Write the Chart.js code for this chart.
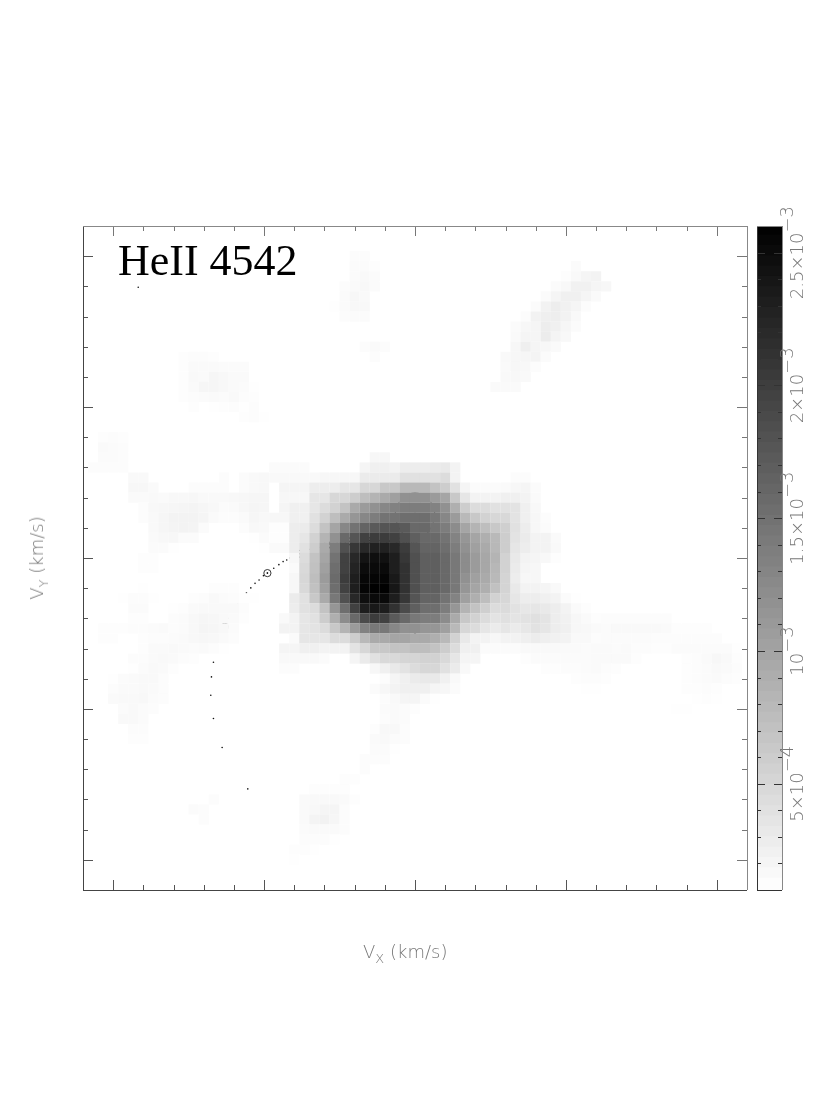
<!DOCTYPE html>
<html lang="en">
<head>
  <meta charset="UTF-8">
  <title>HeII 4542 Doppler map</title>
  <script src="https://cdn.jsdelivr.net/npm/chart.js"></script>
  <style>
    body { margin: 0; background: #fff; }
    #page { position: relative; width: 830px; height: 1117px; overflow: hidden; }
    canvas { position: absolute; left: 0; top: 0; }
    .label { position: absolute; white-space: nowrap; }
    #mapName { left: 118px; top: 236px; font: 44px/50px "Liberation Serif", serif; color: #000; }
    .axisName { font: 200 18px/24px "DejaVu Sans", sans-serif; color: #777; }
    .axisName sub { font-size: 13px; line-height: 0; }
    #xName { left: 363px; top: 940px; }
    #yName { left: 37px; top: 558px; transform: translate(-50%, -50%) rotate(-90deg); }
  </style>
</head>
<body>
<div id="page">
  <canvas id="mapChart" width="830" height="1117"></canvas>
  <canvas id="barChart" width="830" height="1117"></canvas>
  <div class="label" id="mapName">HeII 4542</div>
  <div class="label axisName" id="xName">V<sub>X</sub> (km/s)</div>
  <div class="label axisName" id="yName">V<sub>Y</sub> (km/s)</div>
</div>
<script>
// axis ticks (km/s)
const tickValues = [-1000, -500, 0, 500, 1000];
const tickLabels = ['\u22121000', '\u2212500', '0', '500', '1000'];
const minorValues = [-1000, -900, -800, -700, -600, -400, -300, -200, -100, 100, 200, 300, 400, 600, 700, 800, 900];

// one map cell is this wide in km/s, cell 0 sits on v=0
const cellStep = 33.33;

// flux per cell in units of 1e-5, 0 = background
const coreFirstCol = -14, coreTopRow = 10;
const coreFlux = [
  [0,0,0,0,0,0,0,0,0,0,18,18,0,0,0,0,0,0,0,0,0,0,0,0,0,0,0,0,0,0],
  [14,14,14,14,0,0,0,0,0,20,25,25,22,28,28,28,30,32,22,0,0,0,0,0,0,0,0,0,0,0],
  [16,16,16,16,16,18,18,18,18,30,30,30,30,39,39,39,39,44,22,0,0,0,0,0,13,13,0,0,0,0],
  [0,20,20,20,28,28,28,35,35,49,49,64,64,79,79,79,69,59,39,20,14,14,14,15,18,20,14,0,0,0],
  [0,18,18,18,35,35,49,49,59,74,84,93,103,118,118,118,108,98,64,35,22,22,22,25,25,22,15,0,0,0],
  [0,20,25,25,35,44,54,69,93,108,118,128,133,137,137,137,133,118,88,59,44,44,39,39,37,25,17,0,0,0],
  [18,18,25,25,39,54,74,93,113,128,137,147,147,152,152,152,142,128,108,79,64,54,49,48,37,25,18,13,0,0],
  [12,12,28,30,44,69,98,128,147,162,172,177,177,172,157,157,147,137,123,98,84,74,64,57,39,28,18,14,0,0],
  [12,12,28,35,54,84,118,157,177,196,201,201,196,182,167,157,157,147,132,113,98,88,79,59,37,30,22,22,15,0],
  [15,15,28,39,59,93,137,182,206,221,228,228,221,201,177,162,162,152,137,118,103,93,80,59,35,28,22,22,16,0],
  [0,0,18,44,69,98,147,196,221,240,245,243,231,206,182,167,167,157,142,123,108,96,84,54,32,22,20,17,12,0],
  [0,0,15,47,71,103,152,196,226,248,250,250,231,211,182,167,167,157,142,123,108,96,81,54,30,20,18,0,0,0],
  [0,0,18,49,74,108,155,201,231,253,255,255,235,211,182,167,167,157,142,118,103,93,79,52,28,18,18,0,0,0],
  [0,0,18,47,71,103,152,196,231,255,259,259,237,211,182,167,167,157,142,113,98,88,71,52,32,22,22,20,16,0],
  [0,0,30,39,64,93,142,182,221,245,250,250,231,206,177,162,162,147,132,103,88,74,54,49,35,28,28,25,22,14],
  [0,0,28,39,44,69,113,152,196,231,235,231,211,186,167,152,152,137,113,84,69,57,44,45,38,34,35,32,28,22],
  [0,16,22,35,39,59,88,123,157,186,201,196,172,157,142,137,137,123,93,64,54,44,37,40,36,38,40,36,28,24],
  [0,22,22,35,37,44,64,84,108,133,142,142,128,118,118,113,113,103,79,49,44,35,30,35,30,34,38,35,28,25],
  [0,0,15,35,35,35,44,44,59,79,93,93,98,98,93,93,88,79,54,32,22,22,18,22,23,26,29,26,24,22],
  [0,20,20,25,25,22,22,22,37,49,64,64,69,69,74,74,69,59,44,25,25,14,14,14,14,16,16,16,16,15],
  [0,16,16,16,16,14,0,0,20,30,39,47,47,51,51,54,54,47,35,20,20,0,0,0,0,12,14,14,14,14],
  [0,13,13,0,0,0,0,0,0,0,18,25,32,37,44,49,49,39,30,16,0,0,0,0,0,0,0,12,12,13],
  [0,0,0,0,0,0,0,0,0,0,0,13,20,25,30,32,32,24,16,0,0,0,0,0,0,0,0,0,0,0],
  [0,0,0,0,0,0,0,0,0,0,14,18,22,25,25,25,20,18,14,0,0,0,0,0,0,0,0,0,0,0],
  [0,0,0,0,0,0,0,0,0,0,0,13,16,20,20,14,11,0,0,0,0,0,0,0,0,0,0,0,0,0],
  [0,0,0,0,0,0,0,0,0,0,0,14,15,14,12,0,0,0,0,0,0,0,0,0,0,0,0,0,0,0]
];

const streakFirstCol = 8, streakTopRow = 29;
const streakFlux = [
  [0,0,0,0,0,0,0,0,14,0,0,0],
  [0,0,0,0,0,0,0,12,16,20,22,0],
  [0,0,0,0,0,0,14,17,24,24,20,18],
  [0,0,0,0,0,14,20,25,25,20,15,0],
  [0,0,0,0,14,23,28,24,20,13,0,0],
  [0,0,0,13,23,26,27,23,16,0,0,0],
  [0,0,14,18,20,28,25,19,14,0,0,0],
  [0,0,15,20,20,29,21,17,0,0,0,0],
  [0,0,18,26,20,18,15,0,0,0,0,0],
  [0,16,18,19,21,14,0,0,0,0,0,0],
  [0,15,18,17,13,0,0,0,0,0,0,0],
  [0,16,17,16,0,0,0,0,0,0,0,0],
  [15,15,15,0,0,0,0,0,0,0,0,0]
];

const topFirstCol = -8, topTopRow = 30;
const topFlux = [
  [0,0,13,13,0,0],
  [0,0,14,14,12,0],
  [0,0,14,16,14,0],
  [0,13,15,17,14,0],
  [0,14,18,16,0,0],
  [11,14,17,17,0,0],
  [0,13,14,14,0,0],
  [0,0,0,0,0,0],
  [0,0,0,0,0,0],
  [0,0,0,13,15,13],
  [0,0,0,0,13,0]
];

const blobFirstCol = -23, blobTopRow = 20;
const blobFlux = [
  [12,13,13,12,0,0,0,0,0],
  [12,15,15,15,14,14,14,0,0],
  [12,16,15,19,17,15,15,0,0],
  [12,15,19,19,17,15,14,11,0],
  [12,13,14,15,14,16,13,12,0],
  [0,12,0,11,12,13,11,13,0],
  [0,0,0,0,0,0,12,13,11]
];

const leftFirstCol = -32, leftTopRow = 12;
const leftFlux = [
  [0,12,13,12],
  [0,15,14,13],
  [0,14,14,13],
  [13,13,13,13],
  [0,0,0,0,16,16,0,0,0,0,0,0,0,13,0,14,16,17],
  [0,0,0,0,18,18,15,0,0,0,13,13,13,13,0,14,16,17],
  [0,0,0,0,15,15,16,15,17,17,18,16,16,16,17,18,19,19],
  [0,0,0,0,0,13,17,18,19,20,21,19,17,14,15,18,20,19],
  [0,0,0,0,0,13,16,19,22,22,22,20,15,13,13,15,19,17],
  [0,0,0,0,0,0,16,19,21,22,21,14,0,0,0,13,17,16],
  [0,0,0,0,0,0,15,17,18,14,14,0,0,0,0,0,11,14],
  [0,0,0,0,0,0,14,14,11,0,0,0,0,0,0,0,0,11],
  [0,0,0,0,0,12,12],
  [0,0,0,0,0,12,12],
  [],
  [0,0,0,0,0,11,0,0,0,0,0,0,12,12,12,0,0,0],
  [0,0,0,11,13,13,11,0,0,0,12,13,16,14,13,11,11,0],
  [0,0,0,0,14,14,0,0,11,12,15,16,16,16,16,13,0,0],
  [0,0,0,0,12,12,0,0,13,14,17,19,18,16,15,12,0,0],
  [0,12,12,12,13,13,14,15,13,14,17,20,19,17,14,0,0,0],
  [0,12,12,0,0,12,13,13,14,15,17,18,17,15,13,0,0,0],
  [0,0,0,0,0,12,15,15,16,15,14,15,13,11],
  [0,0,0,0,13,13,15,16,15,13,12],
  [0,0,0,0,11,14,16,15,12],
  [0,0,11,14,15,16,16,13],
  [0,0,13,15,15,16,15,13],
  [0,0,15,16,16,17,14,13],
  [0,0,0,14,16,14,13],
  [0,0,0,16,16,14],
  [0,0,0,0,13,13],
  [0,0,0,0,12,12]
];

const smallFirstCol = -22, smallTopRow = -24;
const smallFlux = [
  [0,0,13],
  [14,13,0],
  [0,13,0]
];

const filamentFirstCol = -12, filamentTopRow = -16;
const filamentFlux = [
  [0,0,0,0,0,0,0,0,0,13,15,14,0],
  [0,0,0,0,0,0,0,0,12,17,17,13,0],
  [0,0,0,0,0,0,0,0,15,16,14,13,0],
  [0,0,0,0,0,0,0,0,14,14,11,0,0],
  [0,0,0,0,0,0,0,13,13,13,0,0,0],
  [0,0,0,0,0,0,0,13],
  [0,0,0,0,0,12,12],
  [0,0,12,12,12,12],
  [0,15,16,16,16,15,12],
  [0,15,17,20,20,13],
  [0,15,21,23,19,13],
  [0,14,15,15,15,13],
  [0,13,13,13,11],
  [12,12,11],
  [11]
];

const rightFirstCol = 16, rightTopRow = -4;
const rightFlux = [
  [11],
  [15,12],
  [18,15,12,13,13,13,13,13,13,13],
  [18,17,15,14,16,16,16,16,16,15,12,12,12,12],
  [16,16,13,14,14,14,14,14,13,13,13,13,13,13,13],
  [15,14,15,15,14,15,13,13,12,12,14,14,14,14,14,14,11],
  [14,14,15,15,15,15,12,0,0,0,0,12,13,15,18,16,12],
  [13,14,15,13,12,0,0,0,0,0,0,12,13,14,16,15,13],
  [12,13,13,12,0,0,0,0,0,0,0,12,13,14,15,13,12],
  [0,11,11,0,0,0,0,0,0,0,0,12,12,13,12],
  [0,0,0,0,0,0,0,0,0,0,0,0,11,12,11],
  [0,0,0,0,0,0,0,0,0,0,11,11]
];

// secondary star outline
const lobeVx = [0,-22,-41,-55,-64,-65,-58.5,-44,-22,0,22,44,58.5,65,64,55,41,22,0];
const lobeVy = [48.6,63,82,104,131,153,175.5,195,211,216,211,195,175.5,153,131,104,82,63,48.6];

// gas stream dots
const streamVx = [-6,-12,-20,-28,-35,-42,-50,-58,-65,-75,-85,-95,-104,-110,-120,-130,-140,-150,-159,-170,-180,-190,-200,-210,-220,-233,-246,-258,-269,-281.5,-291,-307,-320,-333,-346.6,-362,-380,-392,-403,-414,-425,-437,-451,-468,-489,-502,-516.6,-530,-544,-558.5,-573,-587,-602.6,-616,-630,-644.6,-656.7,-667.8,-674.4,-676.6,-667.8,-639,-554,-917];
const streamVy = [49,50,51,52,53,54,54,55,55,56,56,57,57,57,57.5,58,58,58,58.6,57,57,57,57,56,55,54,52,50,47.5,46,43,40,36,33,28.7,23,14,11,6.6,0,-6.6,-12,-22,-34,-50,-58.5,-73,-84,-99,-116,-132.5,-154.5,-174,-200,-228,-262.7,-299,-345.5,-394,-454.7,-532,-628,-765,897];

// open circles on the stream
const ringVx = [-49.7,-103.6,-159,-219.5,-291,-380,-489,-630];
const ringVy = [54,57,58.6,55,43,14,-50,-228];

// small marks on vx=0
const markVy = [268,142,-73,-247];
const markSize = [1,2,2,1];

// colour bar, units of 1e-5
const barEdges = [10,13.9,17.8,21.7,25.6,29.5,33.4,37.3,41.2,45.2,49.1,53,56.9,60.8,64.7,68.6,72.5,76.4,80.3,84.2,88.1,92,95.9,99.8,103.8,107.7,111.6,115.5,119.4,123.3,127.2,131.1,135,138.9,142.8,146.7,150.6,154.5,158.4,162.3,166.2,170.2,174.1,178,181.9,185.8,189.7,193.6,197.5,201.4,205.3,209.2,213.1,217,220.9,224.8,228.8,232.7,236.6,240.5,244.4,248.3,252.2,256.1,260];
const barMajor = [50,100,150,200,250];
const barMinor = [20,30,40,60,70,80,90,110,120,130,140,160,170,180,190,210,220,230,240];
const barBase = ['5\u00d710','10','1.5\u00d710','2\u00d710','2.5\u00d710'];
const barExp = ['\u22124','\u22123','\u22123','\u22123','\u22123'];

const LOW = 10, HIGH = 260;

function grey(v) {
  const g = Math.round(255 * (1 - (Math.min(v, HIGH) - LOW) / (HIGH - LOW)));
  return 'rgb(' + g + ',' + g + ',' + g + ')';
}

// turn the flux blocks into scatter points
const cells = [];
function addCells(rows, firstCol, topRow) {
  rows.forEach((row, r) => {
    row.forEach((v, c) => {
      if (v > 0) cells.push({ x: (firstCol + c) * cellStep, y: (topRow - r) * cellStep, v: v });
    });
  });
}
addCells(coreFlux, coreFirstCol, coreTopRow);
addCells(streakFlux, streakFirstCol, streakTopRow);
addCells(topFlux, topFirstCol, topTopRow);
addCells(blobFlux, blobFirstCol, blobTopRow);
addCells(leftFlux, leftFirstCol, leftTopRow);
addCells(smallFlux, smallFirstCol, smallTopRow);
addCells(filamentFlux, filamentFirstCol, filamentTopRow);
addCells(rightFlux, rightFirstCol, rightTopRow);

const pairs = (xs, ys) => xs.map((x, i) => ({ x: x, y: ys[i] }));

// frame and inward ticks on all four sides
const frameTicks = {
  id: 'frameTicks',
  afterDatasetsDraw(chart) {
    const { ctx, chartArea: a, scales: { x, y } } = chart;
    ctx.save();
    ctx.lineWidth = 1;
    const line = (x1, y1, x2, y2, col) => {
      ctx.strokeStyle = col;
      ctx.beginPath();
      ctx.moveTo(x1, y1);
      ctx.lineTo(x2, y2);
      ctx.stroke();
    };
    const sides = (list, len) => {
      list.forEach(v => {
        const px = Math.round(x.getPixelForValue(v)) + 0.5;
        const py = Math.round(y.getPixelForValue(v)) + 0.5;
        line(px, a.bottom, px, a.bottom - len, '#555');
        line(px, a.top, px, a.top + len, '#777');
        line(a.left, py, a.left + len, py, '#555');
        line(a.right, py, a.right - len, py, '#777');
      });
    };
    sides(tickValues, 10);
    sides(minorValues, 5);
    line(a.left + 0.5, a.top, a.left + 0.5, a.bottom, '#444');
    line(a.left, a.bottom + 0.5, a.right, a.bottom + 0.5, '#444');
    line(a.left, a.top + 0.5, a.right, a.top + 0.5, '#888');
    line(a.right + 0.5, a.top, a.right + 0.5, a.bottom, '#888');
    ctx.restore();
  }
};

const tickFont = { family: 'DejaVu Sans', size: 18, weight: '200' };

new Chart(document.getElementById('mapChart'), {
  type: 'scatter',
  plugins: [frameTicks],
  data: {
    datasets: [
      {
        data: cells,
        pointStyle: 'rect',
        pointRadius: 7.2,
        pointBorderWidth: 0,
        pointBackgroundColor: ctx => grey(ctx.raw.v)
      },
      {
        data: pairs(lobeVx, lobeVy),
        showLine: true,
        tension: 0.3,
        pointRadius: 0,
        borderColor: '#222',
        borderWidth: 1
      },
      {
        data: pairs(streamVx, streamVy),
        pointRadius: 0.8,
        pointBorderWidth: 0,
        pointBackgroundColor: '#111'
      },
      {
        data: pairs(ringVx, ringVy),
        pointRadius: 3.6,
        pointBorderWidth: 0.9,
        pointBorderColor: '#222',
        pointBackgroundColor: 'transparent'
      },
      {
        data: pairs(ringVx, ringVy),
        pointRadius: 0.8,
        pointBorderWidth: 0,
        pointBackgroundColor: '#111'
      },
      {
        data: markVy.map(v => ({ x: 0, y: v })),
        pointRadius: ctx => markSize[ctx.dataIndex],
        pointBorderWidth: 0.8,
        pointBorderColor: '#222',
        pointBackgroundColor: 'transparent'
      },
      {
        data: [{ x: 0, y: 0 }],
        pointStyle: 'cross',
        pointRadius: 5,
        pointBorderWidth: 1,
        pointBorderColor: '#222'
      }
    ]
  },
  options: {
    responsive: false,
    animation: false,
    events: [],
    layout: { padding: { left: 83, right: 83, top: 226, bottom: 227 } },
    plugins: { legend: { display: false }, tooltip: { enabled: false } },
    scales: {
      x: {
        type: 'linear',
        min: -1100,
        max: 1100,
        afterFit: s => { s.height = 0; },
        afterBuildTicks: s => { s.ticks = tickValues.map(v => ({ value: v })); },
        grid: { display: false, drawTicks: false },
        border: { display: false },
        ticks: {
          autoSkip: false,
          maxRotation: 0,
          padding: 11,
          color: '#777',
          font: tickFont,
          callback: (v, i) => tickLabels[i]
        }
      },
      y: {
        type: 'linear',
        min: -1100,
        max: 1100,
        afterFit: s => { s.width = 0; },
        afterBuildTicks: s => { s.ticks = tickValues.map(v => ({ value: v })); },
        grid: { display: false, drawTicks: false },
        border: { display: false },
        ticks: {
          autoSkip: false,
          minRotation: 90,
          maxRotation: 90,
          crossAlign: 'center',
          padding: -10,
          color: '#777',
          font: tickFont,
          callback: (v, i) => tickLabels[i]
        }
      }
    }
  }
});

// colour bar frame, ticks and rotated labels with raised exponents
const barDecor = {
  id: 'barDecor',
  afterDatasetsDraw(chart) {
    const { ctx, chartArea: a, scales: { y } } = chart;
    ctx.save();
    ctx.lineWidth = 1;
    const line = (x1, y1, x2, y2, col) => {
      ctx.strokeStyle = col;
      ctx.beginPath();
      ctx.moveTo(x1, y1);
      ctx.lineTo(x2, y2);
      ctx.stroke();
    };
    barMinor.forEach(v => {
      const py = Math.round(y.getPixelForValue(v)) + 0.5;
      line(a.left, py, a.left + 4, py, '#333');
      line(a.right, py, a.right - 4, py, '#333');
    });
    barMajor.forEach((v, i) => {
      const py = Math.round(y.getPixelForValue(v)) + 0.5;
      line(a.left, py, a.left + 8, py, '#333');
      line(a.right, py, a.right - 8, py, '#333');
      ctx.save();
      ctx.translate(803, y.getPixelForValue(v));
      ctx.rotate(-Math.PI / 2);
      ctx.fillStyle = '#777';
      ctx.textBaseline = 'alphabetic';
      ctx.font = '200 18px "DejaVu Sans"';
      const w1 = ctx.measureText(barBase[i]).width;
      const w2 = ctx.measureText(barExp[i]).width;
      const start = -(w1 + w2) / 2;
      ctx.textAlign = 'left';
      ctx.fillText(barBase[i], start, 0);
      ctx.fillText(barExp[i], start + w1, -10);
      ctx.restore();
    });
    line(a.left + 0.5, a.top, a.left + 0.5, a.bottom, '#333');
    line(a.left, a.bottom + 0.5, a.right, a.bottom + 0.5, '#333');
    line(a.left, a.top + 0.5, a.right, a.top + 0.5, '#888');
    line(a.right + 0.5, a.top, a.right + 0.5, a.bottom, '#888');
    ctx.restore();
  }
};

new Chart(document.getElementById('barChart'), {
  type: 'bar',
  plugins: [barDecor],
  data: {
    labels: ['flux'],
    datasets: barEdges.slice(1).map((hi, i) => ({
      data: [[barEdges[i], hi + 0.6]],
      backgroundColor: grey((barEdges[i] + hi) / 2),
      borderWidth: 0,
      barPercentage: 1,
      categoryPercentage: 1,
      grouped: false
    }))
  },
  options: {
    responsive: false,
    animation: false,
    events: [],
    layout: { padding: { left: 757, right: 48, top: 226, bottom: 227 } },
    plugins: { legend: { display: false }, tooltip: { enabled: false } },
    scales: {
      x: { display: false },
      y: { display: false, min: LOW, max: HIGH }
    }
  }
});
</script>
</body>
</html>
